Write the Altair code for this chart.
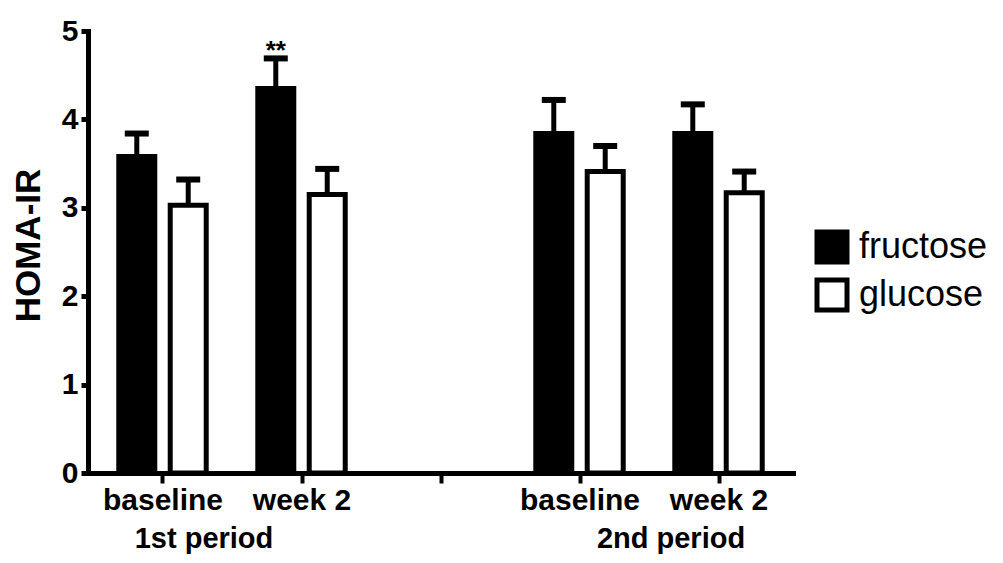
import altair as alt
import pandas as pd

# ---- data ----
periods = ["1st period", "1st period", "2nd period", "2nd period"]
timepoints = ["baseline", "week 2", "baseline", "week 2"]
sugars = ["fructose", "glucose"]
fructose_mean = [3.58, 4.35, 3.84, 3.84]
fructose_sem = [0.26, 0.34, 0.38, 0.33]
glucose_mean = [3.03, 3.15, 3.41, 3.17]
glucose_sem = [0.29, 0.29, 0.29, 0.24]
fructose_sig = ["", "**", "", ""]
glucose_sig = ["", "", "", ""]

rows = []
for i in range(4):
    rows.append(dict(period=periods[i], time=timepoints[i], sugar="fructose",
                     mean=fructose_mean[i], sem=fructose_sem[i], sig=fructose_sig[i]))
    rows.append(dict(period=periods[i], time=timepoints[i], sugar="glucose",
                     mean=glucose_mean[i], sem=glucose_sem[i], sig=glucose_sig[i]))
df = pd.DataFrame(rows)

FONT = "Liberation Sans"

slot_expr = "(datum.period == '2nd period' ? 3 : 0) + (datum.time == 'week 2' ? 1 : 0)"
label_expr = ("datum.value == 0 || datum.value == 3 ? 'baseline' : "
              "(datum.value == 1 || datum.value == 4 ? 'week 2' : '')")

xscale = alt.Scale(domain=[-0.5, 4.5], nice=False, zero=False)
yscale = alt.Scale(domain=[0, 5], nice=False)
x_axis = alt.Axis(values=[0, 1, 2, 3, 4], labelExpr=label_expr, title=None)
y_axis = alt.Axis(values=[0, 1, 2, 3, 4, 5], format="d", title="HOMA-IR")

base = alt.Chart(df).transform_calculate(
    slot=slot_expr
).transform_calculate(
    xpos="datum.slot + (datum.sugar == 'fructose' ? -0.185 : 0.185)",
    top="datum.mean + datum.sem",
)

bars = base.mark_bar(size=36, stroke="black", strokeWidth=5, orient="vertical").encode(
    x=alt.X("xpos:Q", scale=xscale, axis=x_axis),
    y=alt.Y("mean:Q", scale=yscale, axis=y_axis),
    y2=alt.datum(0),
    fill=alt.Fill("sugar:N", scale=alt.Scale(domain=sugars, range=["black", "white"]),
                  legend=alt.Legend(title=None, orient="none", legendX=726, legendY=198,
                                    symbolType="square", symbolSize=900,
                                    symbolStrokeWidth=5, symbolStrokeColor="black",
                                    labelFont=FONT, labelFontSize=36, labelColor="black",
                                    labelOffset=9, rowPadding=-2)),
)

err = base.mark_rule(strokeWidth=5, color="black").encode(
    x=alt.X("xpos:Q", scale=xscale, axis=x_axis),
    y=alt.Y("mean:Q", scale=yscale, axis=y_axis),
    y2="top:Q",
)

caps = base.mark_tick(orient="horizontal", size=24, thickness=6, color="black", opacity=1).encode(
    x=alt.X("xpos:Q", scale=xscale, axis=x_axis),
    y=alt.Y("top:Q", scale=yscale, axis=y_axis),
)

stars = base.mark_text(font=FONT, fontSize=26, fontWeight="bold", color="black",
                       baseline="alphabetic", align="center", dy=1).encode(
    x=alt.X("xpos:Q", scale=xscale, axis=x_axis),
    y=alt.Y("top:Q", scale=yscale, axis=y_axis),
    text="sig:N",
)

period_df = pd.DataFrame({"period": ["1st period", "2nd period"]})
pbase = alt.Chart(period_df).transform_calculate(
    center="datum.period == '2nd period' ? 3.5 : 0.5"
)
p1 = pbase.transform_filter("datum.period == '1st period'").mark_text(
    font=FONT, fontSize=29, fontWeight="bold", color="black",
    baseline="alphabetic", align="center", dx=-28).encode(
    x=alt.X("center:Q", scale=xscale, axis=x_axis), y=alt.value(517), text="period:N")
p2 = pbase.transform_filter("datum.period == '2nd period'").mark_text(
    font=FONT, fontSize=29, fontWeight="bold", color="black",
    baseline="alphabetic", align="center", dx=22).encode(
    x=alt.X("center:Q", scale=xscale, axis=x_axis), y=alt.value(517), text="period:N")

chart = alt.layer(bars, err, caps, stars, p1, p2).properties(
    width=705, height=442,
    padding={"left": 80, "top": 23, "right": 202, "bottom": 82},
    autosize=alt.AutoSizeParams(type="none"),
    background="white",
).configure_view(stroke=None).configure_axis(
    grid=False, domainWidth=5, domainColor="black", domainCap="square",
    tickColor="black", labelColor="black", labelFont=FONT, labelFontWeight="bold",
    titleColor="black", titleFont=FONT, titleFontWeight="bold",
).configure_axisX(
    tickWidth=4, tickSize=10, labelFontSize=30, labelPadding=2, labelAngle=0,
).configure_axisY(
    tickWidth=5, tickSize=7, labelFontSize=30, labelPadding=3,
    titleFontSize=35, titleAngle=-90, titleBaseline="alphabetic",
    titleAlign="center", titleX=-49, titleY=214,
)

chart.save("out.html", embed_options={"renderer": "svg", "actions": False})
